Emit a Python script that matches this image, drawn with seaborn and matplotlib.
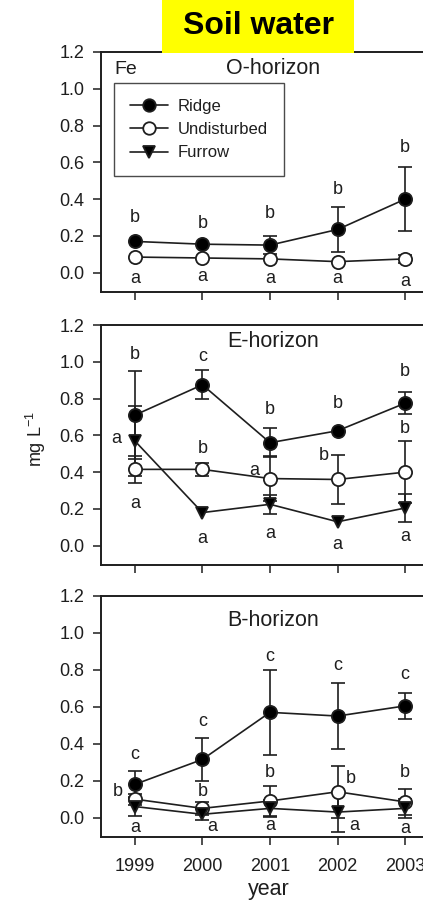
import matplotlib
matplotlib.use("Agg")
import matplotlib.pyplot as plt
import seaborn as sns
import numpy as np
from matplotlib.lines import Line2D
from matplotlib.patches import Rectangle

years = [1999, 2000, 2001, 2002, 2003]
series_names = ["Ridge", "Undisturbed", "Furrow"]

# O-horizon (no furrow data)
o_ridge = [0.17, 0.155, 0.15, 0.235, 0.40]
o_ridge_se = [0.0, 0.0, 0.05, 0.12, 0.175]
o_undist = [0.085, 0.08, 0.075, 0.06, 0.075]
o_undist_se = [0.0, 0.0, 0.0, 0.0, 0.02]

# E-horizon
e_ridge = [0.71, 0.875, 0.56, 0.625, 0.775]
e_ridge_se = [0.24, 0.08, 0.08, 0.0, 0.06]
e_undist = [0.415, 0.415, 0.365, 0.36, 0.40]
e_undist_se = [0.075, 0.035, 0.12, 0.135, 0.17]
e_furrow = [0.57, 0.18, 0.225, 0.13, 0.205]
e_furrow_se = [0.19, 0.0, 0.05, 0.0, 0.075]

# B-horizon
b_ridge = [0.18, 0.315, 0.57, 0.55, 0.605]
b_ridge_se = [0.075, 0.115, 0.23, 0.18, 0.072]
b_undist = [0.10, 0.05, 0.09, 0.14, 0.085]
b_undist_se = [0.03, 0.035, 0.08, 0.14, 0.07]
b_furrow = [0.06, 0.018, 0.05, 0.03, 0.05]
b_furrow_se = [0.05, 0.03, 0.045, 0.11, 0.05]

# significance letters (x, y, letter)
o_letters = [(1999, 0.30, "b"), (2000, 0.27, "b"), (2001, 0.32, "b"), (2002, 0.45, "b"), (2003, 0.68, "b"),
             (1999, -0.03, "a"), (2000, -0.02, "a"), (2001, -0.03, "a"), (2002, -0.03, "a"), (2003, -0.05, "a")]
e_letters = [(1999, 1.04, "b"), (1998.72, 0.584, "a"), (1999, 0.227, "a"),
             (2000, 1.03, "c"), (2000, 0.53, "b"), (2000, 0.04, "a"),
             (2001, 0.74, "b"), (2000.76, 0.41, "a"), (2001, 0.067, "a"),
             (2002, 0.774, "b"), (2001.8, 0.49, "b"), (2002, 0.004, "a"),
             (2003, 0.946, "b"), (2003, 0.638, "b"), (2003, 0.05, "a")]
b_letters = [(1999, 0.34, "c"), (1998.75, 0.139, "b"), (1999, -0.054, "a"),
             (2000, 0.52, "c"), (2000, 0.144, "b"), (2000.14, -0.049, "a"),
             (2001, 0.87, "c"), (2001, 0.246, "b"), (2001, -0.045, "a"),
             (2002, 0.825, "c"), (2002.2, 0.21, "b"), (2002.24, -0.041, "a"),
             (2003, 0.774, "c"), (2003, 0.246, "b"), (2003, -0.06, "a")]

panels = [
    ("O-horizon", [(o_ridge, o_ridge_se), (o_undist, o_undist_se), None], o_letters),
    ("E-horizon", [(e_ridge, e_ridge_se), (e_undist, e_undist_se), (e_furrow, e_furrow_se)], e_letters),
    ("B-horizon", [(b_ridge, b_ridge_se), (b_undist, b_undist_se), (b_furrow, b_furrow_se)], b_letters),
]

styles = {
    "Ridge": dict(marker="o", markerfacecolor="black"),
    "Undisturbed": dict(marker="o", markerfacecolor="white"),
    "Furrow": dict(marker="v", markerfacecolor="black"),
}

sns.set_theme(style="ticks")
plt.rcParams["font.family"] = ["Liberation Sans", "DejaVu Sans"]
plt.rcParams["mathtext.fontset"] = "custom"
plt.rcParams["mathtext.rm"] = "Liberation Sans"
plt.rcParams["mathtext.it"] = "Liberation Sans"
ink = "#1e1e1e"

fig = plt.figure(figsize=(4.23, 9.02), dpi=100)
tops = [52, 325, 596]
bottoms = [292, 565, 837]
left, right = 101 / 423, 439 / 423

axes = []
for i, (name, data, letters) in enumerate(panels):
    y0 = 1 - bottoms[i] / 902
    h = (bottoms[i] - tops[i]) / 902
    ax = fig.add_axes([left, y0, right - left, h])
    axes.append(ax)
    for sname, entry in zip(series_names, data):
        if entry is None:
            continue
        vals, se = entry
        se = np.ma.masked_equal(np.array(se, dtype=float), 0.0)
        ax.errorbar(years, vals, yerr=se, fmt="none", ecolor=ink, elinewidth=1.2,
                    capsize=5, capthick=1.2, zorder=2)
        sns.lineplot(x=years, y=vals, ax=ax, color=ink, linewidth=1.2,
                     markersize=9.5 if styles[sname]["marker"] == "o" else 8.5,
                     markeredgecolor=ink, markeredgewidth=1.3, zorder=3,
                     **styles[sname])
    for x, y, t in letters:
        ax.text(x, y, t, ha="center", va="center", fontsize=13, color=ink)
    ax.text(2001.05, 1.11 if i < 2 else 1.07, name, ha="center", va="center",
            fontsize=15.5, color=ink)
    ax.set_xlim(1998.5, 2003.5)
    ax.set_ylim(-0.105, 1.2)
    ax.set_yticks([0.0, 0.2, 0.4, 0.6, 0.8, 1.0, 1.2])
    ax.set_yticklabels([f"{v:.1f}" for v in [0.0, 0.2, 0.4, 0.6, 0.8, 1.0, 1.2]])
    ax.set_xticks(years)
    if i < 2:
        ax.set_xticklabels([])
    else:
        ax.set_xticklabels([str(y) for y in years])
    ax.set_xlabel("")
    ax.set_ylabel("")
    ax.tick_params(axis="both", direction="out", length=6, width=1.1, colors=ink,
                   labelsize=13, pad=6)
    ax.tick_params(axis="x", pad=9)
    for side in ["top", "left", "bottom"]:
        ax.spines[side].set_visible(True)
        ax.spines[side].set_color(ink)
        ax.spines[side].set_linewidth(1.4)
    ax.spines["right"].set_visible(False)
    if ax.get_legend() is not None:
        ax.get_legend().remove()

# legend and element label in the first panel
handles = [Line2D([0], [0], color=ink, lw=1.2, markeredgecolor=ink, markeredgewidth=1.3,
                  markersize=9 if styles[n]["marker"] == "o" else 8, **styles[n])
           for n in series_names]
leg = axes[0].legend(handles, series_names, loc="upper left", bbox_to_anchor=(0.038, 0.871),
                     borderaxespad=0, fontsize=12, frameon=True, fancybox=False,
                     handlelength=2.3, handletextpad=0.6, labelspacing=0.5, borderpad=0.95)
leg.get_frame().set_edgecolor(ink)
leg.get_frame().set_linewidth(1.0)
for t in leg.get_texts():
    t.set_color(ink)
axes[0].text(0.04, 0.925, "Fe", transform=axes[0].transAxes, fontsize=14,
             ha="left", va="center", color=ink)

fig.text(36 / 423, 1 - 439 / 902, "mg L$^{-1}$", rotation=90, ha="center", va="center",
         fontsize=13, color=ink)
fig.text(269 / 423, 1 - 889 / 902, "year", ha="center", va="center", fontsize=15.5, color=ink)

# yellow title box
fig.add_artist(Rectangle((162 / 423, 1 - 53 / 902), 192 / 423, 53 / 902,
                         transform=fig.transFigure, facecolor="#ffff00", edgecolor="none", zorder=5))
fig.text(258 / 423, 1 - 26 / 902, "Soil water", ha="center", va="center", fontsize=23,
         fontweight="bold", color="black", zorder=6)

fig.savefig("out.png", dpi=100)
